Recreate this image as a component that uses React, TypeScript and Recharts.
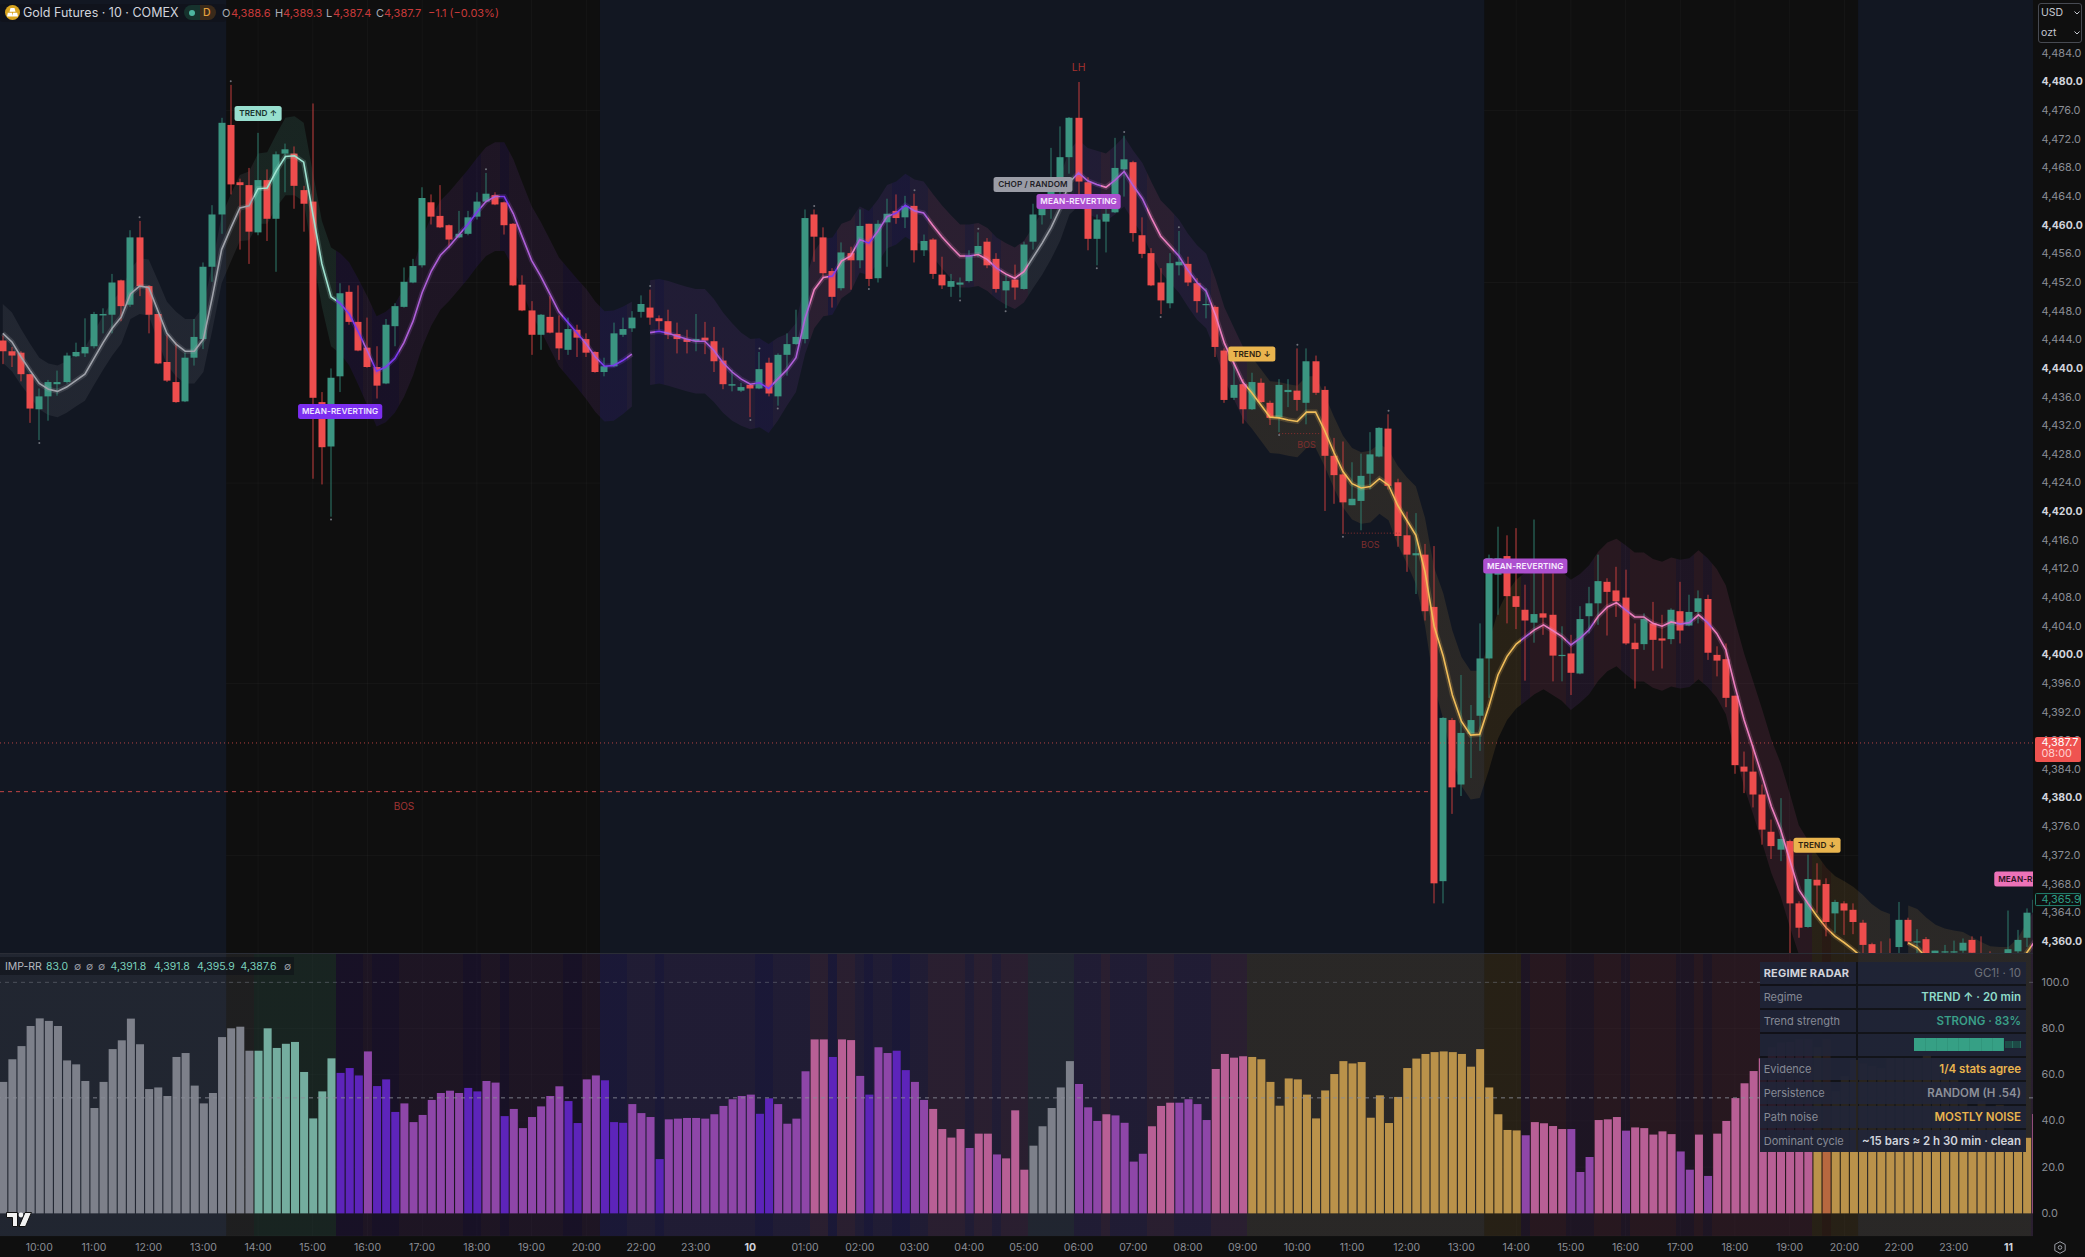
import React from "react";
import {
  Area,
  Bar,
  CartesianGrid,
  ComposedChart,
  Line,
  ReferenceArea,
  ReferenceDot,
  ReferenceLine,
  XAxis,
  YAxis,
} from "recharts";

const opens = [
  4443.9,4442.4,4442.2,4439.2,4434.3,4436.1,4437.8,4438.1,4441.7,4442.1,
  4443.1,4447.4,4447.5,4452.3,4448.9,4458.3,4451.5,4447.6,4440.9,4438.1,
  4435.4,4441.5,4444.1,4454.2,4461.5,4474,4466,4465.6,4459,4466.3,
  4460.9,4470,4470,4464.9,4463.3,4435.3,4429.1,4438.9,4450.7,4446.5,
  4442.9,4440.2,4437.9,4445.9,4448.6,4452,4454.4,4463.2,4461.3,4460,
  4458.3,4458.8,4461.2,4463.3,4464.2,4463.2,4460.2,4451.7,4448.1,4444.7,
  4447.2,4445,4442.6,4445.4,4444.1,4442.3,4439.5,4440.3,4444.7,4445.6,
  4447.9,4448.5,4447,4446.6,4444.8,4444.1,4443.8,4444.3,4443.8,4441.1,
  4437.6,4436.9,4437.7,4437.2,4440.8,4436.1,4441.9,4443.4,4444.1,4461.5,
  4458.3,4453.6,4451.2,4456.1,4455.1,4460.2,4452.6,4460.4,4462,4461.1,
  4462.7,4456.5,4458,4453.1,4451.4,4451.7,4452.2,4456,4457.7,4455.3,
  4450.9,4452.4,4451.1,4457.7,4461.4,4462.5,4465,4469.5,4475,4466,
  4458.1,4460.5,4461.8,4467.8,4468.8,4458.6,4456.1,4452,4449.1,4454.4,
  4454.6,4451.9,4448.9,4448.6,4442.5,4435.9,4437.8,4434.3,4438,4435.2,
  4433.2,4436.7,4436.9,4435.2,4441,4437,4427.8,4425.2,4420.9,4421.5,
  4425.3,4427.7,4431.6,4424.1,4416.7,4413.9,4414,4406.7,4368.4,4390.9,
  4381.9,4389,4391.5,4399.5,4411.2,4413.8,4408.2,4406.3,4404.5,4405.8,
  4405.6,4399.9,4400.2,4397.4,4405.4,4407.2,4410.2,4409,4408,4401.7,
  4401.5,4404.4,4402.3,4402.2,4406.1,4404.1,4406,4407.8,4400,4399.4,
  4394.3,4384.4,4383.7,4380.5,4375.3,4372.8,4374,4365.3,4362,4368.6,
  4368,4363.9,4365.3,4364.4,4362.6,4359.6,4357.6,4357.5,4359.2,4363,
  4359.9,4360.3,4357.5,4358.5,4358.5,4358.7,4360.2,4357.8,4358.3,4356.9,
  4357.5,4358.6,4360.5,4364,
];
const closes = [
  4442.4,4441.8,4439.2,4434.4,4436.1,4438.1,4438.1,4441.8,4442.3,4443,
  4447.6,4447.6,4452,4448.7,4458.3,4451.5,4447.5,4440.7,4438.3,4435.3,
  4441.5,4444.4,4454.2,4461.5,4474.3,4465.7,4465.6,4459.1,4466.3,4460.9,
  4469.9,4470.6,4465.5,4463,4435.9,4429,4438.7,4450.5,4446.5,4442.5,
  4440.2,4437.6,4446.1,4448.7,4452.1,4454.3,4463.8,4461.2,4459.7,4458,
  4458.8,4461.1,4463.3,4464.4,4462.9,4460,4451.6,4448.1,4444.7,4447.5,
  4445,4442.8,4445.5,4444.3,4442.2,4439.5,4440.3,4444.9,4445.5,4447.1,
  4449,4447.1,4446.6,4444.7,4444.1,4443.7,4444.1,4443.9,4441,4437.8,
  4437.8,4437.4,4437.2,4439.9,4436.5,4441.9,4443.4,4444.4,4461,4458.4,
  4453.3,4450,4456.2,4455.1,4459.9,4452.5,4460.2,4461.6,4461,4462.7,
  4456.5,4457.8,4453.2,4451.6,4452.2,4452,4455.7,4457.1,4454.4,4451.1,
  4452.2,4451.3,4457.3,4461.5,4462.6,4465,4469.5,4475,4466.1,4458.1,
  4460.8,4461.6,4468,4469.2,4458.9,4456,4451.6,4449.5,4454.7,4454.9,
  4452,4449.4,4449,4443,4435.6,4437.7,4434.3,4438.1,4435.3,4433.1,
  4437.7,4437,4435.6,4441,4436.6,4427.8,4425.1,4421.3,4421.8,4425,
  4428,4431.7,4423.6,4416.6,4414,4414.2,4406.1,4368.1,4391.2,4381.5,
  4389.1,4390.9,4399.5,4413.5,4413.5,4408.2,4406.7,4404.8,4405.7,4405.2,
  4399.9,4400,4397.5,4405,4407.2,4410.3,4408.8,4407.5,4401.6,4400.8,
  4405,4402.1,4402,4406.3,4403.4,4406,4407.9,4400.3,4399.2,4394,
  4384.6,4383.7,4380.5,4375.6,4373.3,4374.3,4365.3,4361.9,4368.7,4367.8,
  4362.7,4365.5,4364.3,4362.7,4359.5,4358.3,4356,4356,4363,4360,
  4360,4358,4358.7,4358.6,4358.6,4359.8,4358.4,4357,4358.2,4357.7,
  4358.9,4360.2,4364,4365.8,
];
const highs = [
  4444.6,4443,4442.4,4439.2,4437.2,4438.4,4439.7,4442.2,4443.6,4447,
  4447.9,4448.4,4453.2,4452.4,4459.3,4460.6,4451.6,4447.6,4444.7,4443.6,
  4442.2,4446.9,4454.8,4462.8,4475,4479.6,4466.5,4468,4472.9,4467.8,
  4470.3,4471.4,4471,4465.5,4477,4436.7,4440,4451.9,4451.6,4451.6,
  4447.1,4443.1,4446.9,4449.1,4454.1,4455.3,4465.3,4464.3,4465.6,4460.1,
  4462,4462,4464.6,4467.3,4464.6,4463.3,4460.3,4453,4449.4,4447.6,
  4450.1,4447.4,4447.1,4446.1,4444.9,4442.4,4441.5,4446.4,4447.1,4448,
  4450.2,4451,4447.4,4448.2,4446.4,4445.4,4447.6,4446.5,4445.8,4442.9,
  4439.8,4438,4437.8,4442.3,4441.5,4442.1,4444.9,4448.2,4462.2,4462.2,
  4459.7,4454,4457.6,4457,4462.2,4460.2,4460.7,4463.7,4464.3,4464.1,
  4464.4,4458.7,4458.2,4455.6,4453.2,4452.7,4456.5,4459,4458.2,4456.1,
  4453.2,4454.5,4457.7,4463,4463.7,4470.8,4473.8,4475.1,4480,4466.7,
  4461.5,4462.4,4472.2,4472.5,4469,4461.1,4456.8,4454,4456.1,4459.2,
  4455.6,4452.6,4451.2,4448.8,4442.8,4442,4438.5,4439.4,4438.6,4435.5,
  4438.5,4438.5,4442.8,4442.8,4441.8,4437.5,4430.3,4429.8,4426.9,4428.1,
  4431.1,4431.8,4433.6,4424.6,4420,4419.8,4415.5,4415.2,4391.3,4391.2,
  4397.2,4393,4404.4,4414,4417.9,4416.7,4417.7,4409.8,4418.9,4411.9,
  4411.4,4404,4402.8,4406.8,4409.5,4414,4410.7,4412.3,4411.9,4404.4,
  4405.8,4407.4,4405.6,4406.5,4410.2,4408.4,4409,4408.4,4401.2,4401.6,
  4394.3,4386.5,4387.4,4381.9,4377,4380,4374.2,4365.6,4372.1,4370.9,
  4368.8,4365.8,4365.6,4365.3,4363,4359.8,4360,4360.4,4365.5,4363.3,
  4361.7,4360.6,4358.7,4359.5,4360.1,4360.4,4360.7,4360.7,4358.6,4358.2,
  4364.3,4361.6,4364.6,4367,
];
const lows = [
  4440.6,4440.2,4438.2,4432.4,4430,4432.7,4436.2,4437.9,4441.6,4441.6,
  4442.8,4444.9,4444.9,4446.6,4448.6,4450.1,4444.9,4440.6,4438.1,4435.2,
  4435.3,4440.4,4442.7,4452.1,4458.8,4464.3,4456.6,4454.6,4458.6,4457.8,
  4453.5,4464.6,4462.3,4459.1,4424.6,4423.8,4419.3,4436.7,4446.1,4442.4,
  4440.1,4435.8,4437.8,4443.1,4448.5,4451.9,4454.1,4460.1,4459.6,4456.8,
  4458.2,4458.6,4460.8,4463.1,4462.8,4458.7,4451.5,4448,4441.9,4442.6,
  4444.9,4441.2,4441.9,4441.6,4441.6,4439.4,4438.9,4440.2,4444.4,4445.1,
  4447.1,4446.1,4445.4,4444.1,4442.1,4442.1,4442.4,4442,4439.5,4437.1,
  4436.8,4436.7,4433.2,4437.1,4436.1,4434.8,4439,4443.3,4443.5,4454.9,
  4452.7,4448.5,4450.9,4451,4454,4451.5,4452,4454.2,4460.2,4459.6,
  4454.8,4455.7,4452.5,4451.1,4450,4449.9,4452,4455.5,4454,4450.6,
  4448.4,4449.6,4451,4456.6,4460.1,4460.9,4464,4467.2,4463,4456.5,
  4454.4,4456.2,4461.7,4464,4457.7,4455.4,4451.5,4447.6,4448.4,4453,
  4451.5,4447.8,4447,4441.6,4435.2,4435.6,4432.3,4434.2,4435.2,4432.1,
  4431.1,4434.6,4434.1,4432.2,4436.3,4420.1,4421.1,4416.9,4420.9,4417.4,
  4423.1,4427.6,4423.1,4415.1,4411.6,4408.5,4404.8,4365.3,4365.3,4377.8,
  4380.3,4382.8,4386.6,4394,4405.6,4404.4,4403.6,4396.4,4401.7,4402.8,
  4396.3,4396.3,4394.4,4397.3,4403,4404.2,4402.7,4405.3,4401.4,4395.3,
  4400.7,4397.8,4398.1,4401.5,4401.6,4404,4404.4,4399.3,4397,4392.7,
  4383.4,4380.7,4378.7,4373.5,4371.5,4371.2,4358.3,4360.5,4361.9,4364,
  4360.7,4361.2,4360.9,4361,4358.3,4358,4355,4355,4357.5,4359.5,
  4358,4357,4357,4358,4358,4358.4,4357.5,4356,4357,4356.5,
  4357,4358.2,4359.2,4363,
];
const regimeLine = [
  4444.9,4443.7,4441.6,4439.7,4437.9,4437.1,4436.8,4437.4,4438.3,4439.2,
  4441.4,4443.6,4445.6,4447.2,4450.4,4451.5,4451.3,4448.1,4444.9,4443.4,
  4442.4,4442.4,4444.1,4450.1,4456.6,4459.6,4462.4,4462.7,4465.1,4465.2,
  4467.6,4469.6,4469.7,4468.8,4461.6,4454.6,4450,4449.1,4447.6,4445.1,
  4442.4,4439.6,4440.2,4441.4,4443.6,4446.6,4450.6,4453.6,4455.8,4457.1,
  4458.6,4460.1,4461.8,4463.3,4464,4464,4461.6,4458.3,4455.1,4452.9,
  4450.4,4447.9,4446.4,4444.9,4443.4,4441.6,4440.3,4440.4,4441.1,4442,
  null,4445,4445.2,4444.9,4444.5,4444.1,4443.8,4443.8,4442.5,4440.8,
  4439.5,4438.5,4437.8,4438,4437.2,4438.5,4439.8,4441.5,4447,4451,
  4452.7,4452.9,4455,4455.7,4458,4457.5,4459.2,4461.2,4461.7,4462.8,
  4462,4461.7,4460,4458.4,4457,4455.7,4455.7,4455.9,4455.2,4454,
  4453.2,4452.6,4453.5,4455.5,4457.5,4459.7,4462.4,4466,4467.3,4466.2,
  4465.7,4465.3,4466.3,4467.5,4465.5,4463.7,4461,4458.5,4457.1,4455.7,
  4453.7,4452,4450.8,4447.5,4443.5,4440.8,4438.1,4436.6,4434.9,4433.2,
  4433.1,4432.8,4432.6,4433.9,4433.9,4431.3,4428.3,4425.6,4423.9,4423.3,
  4423.5,4424.6,4423.7,4420.9,4418.8,4416.7,4411.6,4404,4399.8,4394.4,
  4390.7,4388.8,4388.9,4392.8,4397.2,4399.8,4401.5,4402.5,4403.5,4404.2,
  4403.4,4402.6,4401.4,4402.3,4403.5,4405.4,4406.7,4407.3,4406.3,4405.3,
  4405.3,4404.4,4404,4404.6,4404.3,4404.5,4405.6,4404.5,4403,4400.7,
  4395.6,4390.9,4387,4383,4378.8,4375.6,4371.4,4367.2,4365.3,4363.5,
  4361.9,4360.7,4359.8,4358.8,4357.7,4356.4,4355.5,4355,null,4359.8,
  4359.1,4357.7,4356.5,4355.8,4355.4,4355.2,4355,4354.9,4354.8,4355,
  4355.5,4356.5,4358.4,4360.2,
];
const bandHalf = [
  4.1,4.1,3.9,3.7,3.6,3.6,3.6,3.6,3.6,3.7,
  3.7,3.8,3.8,3.7,3.5,3.9,3.9,4.2,4.4,4.5,
  4.5,4.5,4.6,4.6,4.7,4.7,4.6,4.8,4.9,5,
  5.1,5.4,5.5,5.5,5.8,6,6.9,7,7.2,7.4,
  7.6,7.7,7.7,7.6,7.6,7.6,7.6,7.6,7.6,7.6,
  7.6,7.6,7.6,7.6,7.6,7.6,7.6,7.6,7.6,7.6,
  7.6,7.6,7.6,7.6,7.7,7.7,7.7,7.7,7.5,7.3,
  0,7.3,7.3,7.3,7.3,7.3,7.3,7.3,7.2,7,
  6.8,6.5,6.3,6.2,6.2,5.8,5,4.8,5,5.4,
  5.4,5.4,5.2,5,4.6,4.5,4.4,4.4,4.4,4.4,
  4.4,4.4,4.4,4.4,4.4,4.4,4.4,4.4,4.4,4.3,
  4.3,4.3,4.3,4.3,4.4,4.4,4.5,4.5,4.6,4.6,
  4.7,4.7,4.8,4.9,4.9,5,5,5,5.1,5.1,
  5.1,5.2,5.2,5.1,5,5,5,5,5,5,
  5,5,5,5,5,5,5,5,5,5,
  5,4.9,4.9,5.5,6,6.8,7.5,8.2,8.8,9,
  9,9,8.9,8.9,8.9,8.9,9,9,9,9,
  9,9,9.1,9,9,9,9,8.9,9,9,
  9,9,9,9,9,9,9,9,9,9,
  9.2,9.3,9.3,9.3,9.3,9.3,9.3,9,8.8,8.6,
  8.4,8.4,8.6,8.8,8.8,8.8,8.8,8.8,0,5.2,
  5.4,5.6,5.8,6,6.1,6.1,5.6,5,4.5,4.2,
  3.7,3.9,4.2,4.5,
];
const oscValues = [
  56.9,66.7,72.4,81.1,84.4,83.3,81.1,66.2,64.5,57.3,
  45.6,56.9,71.1,74.9,84.3,73.2,53.8,54.5,50.8,67.7,
  69.4,55.3,47.6,52.1,76.3,80.1,80.8,70.4,70.4,80.1,
  71.6,73.4,74.2,61.2,41.1,52.8,67.1,60.8,62.9,59.7,
  70.1,55.1,58,43.9,47.6,39.5,42.6,49.1,52.1,53.1,
  52.1,54.3,52.8,57.3,56.6,42.1,45.2,36.9,41.7,46.3,
  50.8,55,48.6,39.1,58,59.7,57.6,39.5,39.2,47.3,
  43.4,41.7,23.5,40.7,41,41.3,41.3,41,42.9,46.5,
  49.4,50.8,51.4,43.1,49.8,47.3,38.8,41,61.5,75.3,
  75.3,67.7,75.3,75,59.5,51.4,71.9,69.4,70.4,62,
  56.9,49.1,45.2,36.5,32.8,36.5,28.3,34.5,34.5,25.5,
  23.8,44.6,18.9,29.3,37.7,45.6,54.5,65.9,56,45.9,
  40,42.9,42.4,39.2,22.4,25.8,37.7,46.5,47.9,47.9,
  49.4,47.3,40.4,62.5,69,67.4,68,67.7,66.7,56.9,
  46.6,58.4,58,51.4,41.1,53.2,60.3,65.9,64.9,65.5,
  41.4,51.1,39.1,50.4,62.9,67,69,69.8,70.1,69.8,
  69,63.5,71.1,54.5,42.9,36.1,35.9,33.8,39.5,39,
  37.8,36.5,36.5,17.9,24.4,40.4,40.7,41.7,35.8,37.2,
  36.9,34.1,35.5,34.3,26.8,18.9,34.1,16.2,34.5,40,
  49.9,56.3,61.6,67.1,71.9,73.9,74.2,75.3,75.3,71.9,
  75.3,52.9,59.4,66.4,64.9,63.8,62.9,67.2,67.2,67.2,
  66.7,68.5,67.2,65.2,57.7,52,46.4,48.6,46,47,
  33.2,33,32.7,43,
];
const regimes = (
  "GGGGGGGGGG" + "GGGGGGGGGG" + "GGGGGGGGTT" + "TTTTTTTIII" +
  "PIIIPPPPPP" + "PIIPPIPPPP" + "PPIIPPIIIP" + "PPIPPPPPPP" +
  "PPPIIPPPPK" + "KIKKPIPPII" + "PPKKKKPKKP" + "KKKGGGGGPP" +
  "PKPPPPKKKP" + "PPPKKKKYYY" + "YYYYYYYYYY" + "YYYYYYYYYY" +
  "YYYYYYYPKK" + "KKPPPKKKPK" + "KKKKPPKPKK" + "KKKKKKKKKY" +
  "OYYYYYYYYY" + "YYYYYYYYYY" + "YYYK"
).split("");
const pivotHighBars = [15, 25, 53, 71, 83, 89, 100, 107, 123, 129, 142, 152];
const pivotLowBars = [4, 36, 82, 85, 95, 105, 110, 120, 127, 140, 147];
const timeLabels = [
  "10:00","11:00","12:00","13:00","14:00","15:00","16:00","17:00","18:00","19:00","20:00","22:00","23:00",
  "10","01:00","02:00","03:00","04:00","05:00","06:00","07:00","08:00","09:00","10:00","11:00","12:00",
  "13:00","14:00","15:00","16:00","17:00","18:00","19:00","20:00","22:00","23:00","11",
];
const priceTicks = [
  4484,4480,4476,4472,4468,4464,4460,4456,4452,4448,4444,4440,4436,4432,4428,4424,4420,4416,4412,4408,
  4404,4400,4396,4392,4388,4384,4380,4376,4372,4368,4364,4360,
];
const lastPrice = 4387.7;
const livePrice = 4365.9;
const oscTicks = [100, 80, 60, 40, 20, 0];
const faintPriceLines = [4476, 4452, 4424, 4396, 4372];
const regimeLabels = [
  { bar: 28, price: 4475.6, text: "TREND \u2191", bg: "#98dfcf", fg: "#17302b" },
  { bar: 37, price: 4434, text: "MEAN-REVERTING", bg: "#7c2ef0", fg: "#efe6ff" },
  { bar: 113, price: 4465.7, text: "CHOP / RANDOM", bg: "#9a9ca6", fg: "#1e2027" },
  { bar: 118, price: 4463.3, text: "MEAN-REVERTING", bg: "#ad4fcf", fg: "#f8ecff" },
  { bar: 137, price: 4442, text: "TREND \u2193", bg: "#e9b44e", fg: "#2c2110" },
  { bar: 167, price: 4412.4, text: "MEAN-REVERTING", bg: "#ad4fcf", fg: "#f8ecff" },
  { bar: 199, price: 4373.4, text: "TREND \u2193", bg: "#e9b44e", fg: "#2c2110" },
  { bar: 223.06, price: 4368.7, text: "MEAN-REVERTING", bg: "#ec72b8", fg: "#2c1222" },
];
const structureLabels = [
  { bar: 44, price: 4378.7, text: "BOS", color: "#a03434", size: 10 },
  { bar: 143, price: 4429.2, text: "BOS", color: "#7d2e2e", size: 9 },
  { bar: 150, price: 4415.2, text: "BOS", color: "#7d2e2e", size: 9 },
  { bar: 118, price: 4482, text: "LH", color: "#a8322f", size: 10.5 },
];
const tableRows = [
  ["REGIME RADAR", "GC1! \u00b7 10", "#d1d4dc", "#6d7079"],
  ["Regime", "TREND \u2191 \u00b7 20 min", "#868a95", "#8fdcca"],
  ["Trend strength", "STRONG \u00b7 83%", "#868a95", "#3a9f88"],
  ["", "", "", ""],
  ["Evidence", "1/4 stats agree", "#868a95", "#e9b44e"],
  ["Persistence", "RANDOM (H .54)", "#868a95", "#8d9099"],
  ["Path noise", "MOSTLY NOISE", "#868a95", "#e9b44e"],
  ["Dominant cycle", "~15 bars \u2248 2 h 30 min \u00b7 clean", "#868a95", "#d1d4dc"],
];
const strengthBlocks = [1, 1, 1, 1, 1, 1, 1, 1, 0, 0];

const barColor = { G: "#7d808a", T: "#74ad9f", I: "#5d24ba", P: "#8e46a8", K: "#b85f95", Y: "#ba924a", O: "#b8683f" };
const lineColor = { G: "#a0a3ab", T: "#9fe3d1", I: "#7c3aed", P: "#ae5fd8", K: "#ec7fc0", Y: "#f0bd5a", O: "#f0935a" };
const bandColor = { G: "#9598a1", T: "#5fc5aa", I: "#5b21d6", P: "#8e44c0", K: "#e05a9c", Y: "#e0a84a", O: "#e06a3a" };
const FONT = "Inter, sans-serif";
const X_MIN = -0.31;
const X_MAX = 222.69;
const PLOT_W = 2033;
const SESSIONS = [
  [X_MIN, 24.5],
  [65.5, 162.5],
  [203.5, X_MAX],
];
const NAVY = "#121722";

const rows = opens.map((open, i) => {
  const line = regimeLine[i];
  return {
    i,
    open,
    close: closes[i],
    high: highs[i],
    low: lows[i],
    range: [lows[i], highs[i]],
    line,
    band: line === null ? null : [line - bandHalf[i], line + bandHalf[i]],
    osc: oscValues[i],
    regime: regimes[i],
  };
});
const timeTicks = timeLabels.map((_, k) => 4 + 6 * k);
const frac = (v: number) => Math.min(1, Math.max(0, (v - X_MIN) / (X_MAX - X_MIN)));

function gradient(id: string, palette: any, opacity: number) {
  return (
    <linearGradient id={id} gradientUnits="userSpaceOnUse" x1="0" y1="0" x2={PLOT_W} y2="0">
      {regimes.flatMap((r, i) => [
        <stop key={i + "a"} offset={frac(i - 0.5)} stopColor={palette[r]} stopOpacity={opacity} />,
        <stop key={i + "b"} offset={frac(i + 0.5)} stopColor={palette[r]} stopOpacity={opacity} />,
      ])}
    </linearGradient>
  );
}

const Candle = (p: any) => {
  const { x, y, width, height, payload: d } = p;
  const u = height / (d.high - d.low);
  const cx = Math.round(x + width / 2);
  const yo = y + (d.high - d.open) * u;
  const yc = y + (d.high - d.close) * u;
  const up = d.close >= d.open;
  const col = up ? "#3b9581" : "#ee4d4d";
  const wick = up ? "#2f7d6c" : "#c23d3d";
  return (
    <g>
      <rect x={cx - 0.5} y={y} width={1} height={height} fill={wick} />
      <rect x={cx - 3.5} y={Math.min(yo, yc)} width={7} height={Math.max(1.2, Math.abs(yc - yo))} fill={col} />
    </g>
  );
};

const OscBar = (p: any) => {
  const { x, y, width, height, payload } = p;
  return <rect x={x} y={y} width={width} height={height} fill={barColor[payload.regime]} />;
};

const fmt = (v: number) => v.toLocaleString("en-US", { minimumFractionDigits: 1, maximumFractionDigits: 1 });

const PriceTick = (p: any) => {
  const { x, y, payload } = p;
  const v = payload.value;
  if (v === lastPrice) {
    return (
      <g>
        <rect x={x + 2} y={y - 6} width={46} height={25} rx={2} fill="#ef5350" />
        <text x={x + 8.5} y={y + 0.5} fill="#fff" fontSize={10.9} fontFamily={FONT} dominantBaseline="middle">{fmt(v)}</text>
        <text x={x + 8.5} y={y + 11.5} fill="#ffd0cf" fontSize={10.9} fontFamily={FONT} dominantBaseline="middle">08:00</text>
      </g>
    );
  }
  if (v === livePrice) {
    return (
      <g>
        <rect x={x + 2.5} y={y - 5.5} width={45} height={12} rx={1} fill="#0f0f0f" stroke="#23806f" strokeWidth={1} />
        <text x={x + 8.5} y={y + 0.5} fill="#2e9e86" fontSize={10.9} fontFamily={FONT} dominantBaseline="middle">{fmt(v)}</text>
      </g>
    );
  }
  const bold = v % 20 === 0;
  return (
    <text x={x + 8.5} y={y + 0.5} fill={bold ? "#d1d4dc" : "#8b8e96"} fontWeight={bold ? 700 : 400} fontSize={bold ? 10.5 : 10.9} fontFamily={FONT} dominantBaseline="middle">
      {fmt(v)}
    </text>
  );
};

const OscTick = (p: any) => (
  <text x={p.x + 8.5} y={p.y + 0.5} fill="#8b8e96" fontSize={10.9} fontFamily={FONT} dominantBaseline="middle">
    {fmt(p.payload.value)}
  </text>
);

const TimeTick = (p: any) => {
  const k = timeTicks.indexOf(p.payload.value);
  const label = timeLabels[k];
  const bold = label.length === 2;
  return (
    <text x={p.x} y={p.y + 11.7} textAnchor="middle" dominantBaseline="middle" fill={bold ? "#d1d4dc" : "#8b8e96"} fontWeight={bold ? 700 : 400} fontSize={10.5} fontFamily={FONT}>
      {label}
    </text>
  );
};

const regimeTag = (t: any) => (p: any) => {
  const w = t.text.length * 5.3 + 10;
  return (
    <g clipPath="url(#plotClip)">
      <rect x={p.cx - w / 2} y={p.cy - 7.5} width={w} height={15} rx={2.5} fill={t.bg} />
      <text x={p.cx} y={p.cy + 0.5} textAnchor="middle" dominantBaseline="middle" fontFamily={FONT} fontSize={8.2} fontWeight={600} letterSpacing={0.1} fill={t.fg}>
        {t.text}
      </text>
    </g>
  );
};

const structureTag = (t: any) => (p: any) => (
  <text x={p.cx} y={p.cy} textAnchor="middle" dominantBaseline="middle" fontFamily={FONT} fontSize={t.size} fill={t.color}>
    {t.text}
  </text>
);

const pivotDot = (p: any) => <circle cx={p.cx} cy={p.cy} r={1} fill="#6f727b" />;

const abs = (left: number, top: number, extra: any = {}) => ({ position: "absolute" as const, left, top, ...extra });
const Txt = ({ x, y, c, s = 11, w = 400, children }: any) => (
  <span style={abs(x, y, { color: c, fontSize: s, fontWeight: w, lineHeight: "14px", whiteSpace: "pre" })}>{children}</span>
);

export default function App() {
  return (
    <div style={{ position: "absolute", left: 0, top: 0, width: 2085, height: 1257, background: "#0f0f0f", overflow: "hidden", fontFamily: FONT }}>
      <div style={abs(0, 0)}>
        <ComposedChart width={2085} height={953} data={rows} margin={{ top: 0, right: 0, bottom: 0, left: 0 }}>
          <defs>
            {gradient("mainBand", bandColor, 0.12)}
            {gradient("mainLine", lineColor, 1)}
            <clipPath id="plotClip"><rect x={0} y={0} width={PLOT_W} height={953} /></clipPath>
          </defs>
          <XAxis dataKey="i" type="number" hide domain={[X_MIN, X_MAX]} allowDataOverflow />
          <YAxis
            orientation="right"
            width={52}
            domain={[4358.37, 4491.45]}
            allowDataOverflow
            ticks={[...priceTicks, lastPrice, livePrice]}
            interval={0}
            axisLine={false}
            tickLine={false}
            tickSize={0}
            tickMargin={0}
            tick={PriceTick}
          />
          {SESSIONS.map(([a, b]) => (
            <ReferenceArea key={a} x1={a} x2={b} fill={NAVY} fillOpacity={1} stroke="none" ifOverflow="visible" />
          ))}
          <CartesianGrid stroke="#ffffff" strokeOpacity={0.03} verticalValues={timeTicks} horizontalValues={faintPriceLines} />
          <Area dataKey="band" stroke="none" fill="url(#mainBand)" fillOpacity={1} isAnimationActive={false} activeDot={false} dot={false} />
          <Bar dataKey="range" barSize={7} shape={Candle} isAnimationActive={false} />
          <Line dataKey="line" stroke="url(#mainLine)" strokeOpacity={0.2} strokeWidth={5} dot={false} activeDot={false} isAnimationActive={false} />
          <Line dataKey="line" stroke="url(#mainLine)" strokeWidth={1.6} dot={false} activeDot={false} isAnimationActive={false} />
          <ReferenceLine y={lastPrice} stroke="#ef5350" strokeOpacity={0.75} strokeDasharray="1 3" />
          <ReferenceLine segment={[{ x: X_MIN, y: 4380.9 }, { x: 156.5, y: 4380.9 }]} stroke="#c24545" strokeDasharray="4 4" ifOverflow="visible" />
          <ReferenceLine segment={[{ x: 140, y: 4430.9 }, { x: 144.5, y: 4430.9 }]} stroke="#8a2f2f" strokeDasharray="1 2" />
          <ReferenceLine segment={[{ x: 147.2, y: 4417 }, { x: 153.2, y: 4417 }]} stroke="#8a2f2f" strokeDasharray="1 2" />
          {pivotHighBars.map((i) => (
            <ReferenceDot key={"h" + i} x={i} y={highs[i] + 0.5} shape={pivotDot} />
          ))}
          {pivotLowBars.map((i) => (
            <ReferenceDot key={"l" + i} x={i} y={lows[i] - 0.4} shape={pivotDot} />
          ))}
          {structureLabels.map((t) => (
            <ReferenceDot key={t.bar + t.text} x={t.bar} y={t.price} shape={structureTag(t)} />
          ))}
          {regimeLabels.map((t) => (
            <ReferenceDot key={t.bar} x={t.bar} y={t.price} ifOverflow="visible" shape={regimeTag(t)} />
          ))}
        </ComposedChart>
      </div>

      <div style={abs(0, 953)}>
        <ComposedChart width={2085} height={304} data={rows} margin={{ top: 0, right: 0, bottom: 0, left: 0 }}>
          <defs>{gradient("oscBg", bandColor, 0.115)}</defs>
          <XAxis
            dataKey="i"
            type="number"
            domain={[X_MIN, X_MAX]}
            allowDataOverflow
            ticks={timeTicks}
            interval={0}
            height={21}
            axisLine={false}
            tickLine={false}
            tickSize={0}
            tickMargin={0}
            tick={TimeTick}
          />
          <YAxis
            orientation="right"
            width={52}
            domain={[-9.8, 112.7]}
            allowDataOverflow
            ticks={oscTicks}
            interval={0}
            axisLine={false}
            tickLine={false}
            tickSize={0}
            tickMargin={0}
            tick={OscTick}
          />
          {SESSIONS.map(([a, b]) => (
            <ReferenceArea key={a} x1={a} x2={b} fill={NAVY} fillOpacity={1} stroke="none" ifOverflow="visible" />
          ))}
          <ReferenceArea x1={X_MIN} x2={X_MAX} fill="url(#oscBg)" fillOpacity={1} stroke="none" ifOverflow="visible" />
          <CartesianGrid stroke="#ffffff" strokeOpacity={0.025} verticalValues={timeTicks} horizontalValues={[]} />
          <Bar dataKey="osc" barSize={8} shape={OscBar} isAnimationActive={false} />
          <ReferenceLine y={100} stroke="#787b86" strokeOpacity={0.5} strokeDasharray="4 4" />
          <ReferenceLine y={50} stroke="#8a8d96" strokeOpacity={0.85} strokeDasharray="4 4" />
        </ComposedChart>
      </div>

      <div style={abs(0, 953, { width: 2033, height: 1, background: "#2a2d36" })} />

      {/* main legend */}
      <div style={abs(0, 4, { width: 226, height: 18, background: "rgba(15,17,24,.55)", borderRadius: 3 })} />
      <div style={abs(5, 5, { width: 15, height: 15, borderRadius: "50%", background: "#d9a520" })} />
      <svg style={abs(7, 8)} width={11} height={9} viewBox="0 0 11 9">
        <path d="M3.5 0H7.5L8.5 3.8H2.5ZM0.8 4.8H5L5.6 8.4H0ZM6 4.8H10.2L11 8.4H5.4Z" fill="#fff" />
      </svg>
      <Txt x={23} y={6} c="#d1d4dc" s={12.5}>Gold Futures · 10 · COMEX</Txt>
      <div style={abs(184, 5, { width: 16, height: 15, background: "#16322d", borderRadius: "8px 0 0 8px" })} />
      <div style={abs(200, 5, { width: 16, height: 15, background: "#3a2a1a", borderRadius: "0 8px 8px 0" })} />
      <div style={abs(189, 10, { width: 6, height: 6, borderRadius: "50%", background: "#4db6a0" })} />
      <Txt x={203} y={6} c="#e6a33e" s={10.5} w={500}>D</Txt>
      <Txt x={222} y={6} c="#a9acb4">O</Txt>
      <Txt x={231} y={6} c="#c73a3a">4,388.6</Txt>
      <Txt x={275} y={6} c="#a9acb4">H</Txt>
      <Txt x={283} y={6} c="#c73a3a">4,389.3</Txt>
      <Txt x={326} y={6} c="#a9acb4">L</Txt>
      <Txt x={333} y={6} c="#c73a3a">4,387.4</Txt>
      <Txt x={376} y={6} c="#a9acb4">C</Txt>
      <Txt x={384} y={6} c="#c73a3a">4,387.7</Txt>
      <Txt x={428} y={6} c="#c73a3a">−1.1 (−0.03%)</Txt>

      {/* currency and unit */}
      <div style={abs(2037.5, 3, { width: 44, height: 40, border: "1px solid #474a52", borderRadius: 3, boxSizing: "border-box" })} />
      <Txt x={2041} y={6} c="#c5c8d0" s={10.5}>USD</Txt>
      <Txt x={2041} y={26} c="#c5c8d0" s={10.5}>ozt</Txt>
      <svg style={abs(2074, 11)} width={6} height={4}><path d="M0.5 0.5L3 3L5.5 0.5" stroke="#c5c8d0" fill="none" /></svg>
      <svg style={abs(2074, 31)} width={6} height={4}><path d="M0.5 0.5L3 3L5.5 0.5" stroke="#c5c8d0" fill="none" /></svg>

      {/* oscillator legend */}
      <div style={abs(0, 957, { width: 294, height: 18, background: "rgba(15,17,24,.55)" })} />
      <Txt x={5} y={960} c="#b5b8c0" s={10.5}>IMP-RR</Txt>
      <Txt x={46} y={960} c="#7ad1bb" s={10.5}>83.0</Txt>
      <Txt x={74} y={960} c="#9a9da5" s={10.5}>∅</Txt>
      <Txt x={86} y={960} c="#9a9da5" s={10.5}>∅</Txt>
      <Txt x={98} y={960} c="#9a9da5" s={10.5}>∅</Txt>
      <Txt x={110.5} y={960} c="#7ad1bb" s={10.5}>4,391.8</Txt>
      <Txt x={154} y={960} c="#7ad1bb" s={10.5}>4,391.8</Txt>
      <Txt x={197} y={960} c="#7ad1bb" s={10.5}>4,395.9</Txt>
      <Txt x={240.5} y={960} c="#7ad1bb" s={10.5}>4,387.6</Txt>
      <Txt x={284} y={960} c="#9a9da5" s={10.5}>∅</Txt>

      {/* regime table */}
      <div
        style={abs(1759.7, 962, {
          width: 266.3,
          height: 190,
          display: "grid",
          gridTemplateColumns: "96px 1fr",
          gridTemplateRows: "repeat(8, 1fr)",
          gap: "2.5px 2px",
          background: "rgba(14,16,24,.85)",
        })}
      >
        {tableRows.map((r, k) => [
          <div key={k + "a"} style={{ background: "rgba(33,38,57,.9)", color: r[2], fontSize: 11, fontWeight: k === 0 ? 700 : 400, display: "flex", alignItems: "center", paddingLeft: 4, letterSpacing: k === 0 ? 0.2 : 0, whiteSpace: "nowrap" }}>
            {r[0]}
          </div>,
          <div key={k + "b"} style={{ background: "rgba(33,38,57,.9)", color: r[3], fontSize: 11.5, fontWeight: k === 0 ? 400 : 600, display: "flex", alignItems: "center", justifyContent: "flex-end", paddingRight: 5, whiteSpace: "nowrap" }}>
            {k === 3
              ? strengthBlocks.map((on, b) => (
                  <span key={b} style={{ width: b < 8 ? 11.2 : 8, height: b < 8 ? 13 : 7, marginLeft: b === 8 ? 1 : 0, background: on ? "#36a085" : "#1d4a46", boxShadow: "inset -0.5px 0 0 #2c8b75" }} />
                ))
              : r[1]}
          </div>,
        ])}
      </div>

      {/* logo and settings */}
      <svg style={abs(6, 1212)} width={26} height={15} viewBox="0 0 26 15">
        <path d="M0.5 0.5H11.5V14.5H6.5V5.5H0.5Z" fill="#f2f2f2" stroke="#111" strokeWidth={1} />
        <circle cx={15} cy={3} r={2.4} fill="#f2f2f2" />
        <path d="M19 0.5H25.5L19.5 14.5H13Z" fill="#f2f2f2" stroke="#111" strokeWidth={1} />
      </svg>
      <svg style={abs(2054, 1241)} width={12} height={13} viewBox="0 0 12 13">
        <path d="M6 0.7L11.2 3.5V9.5L6 12.3L0.8 9.5V3.5Z" fill="none" stroke="#9a9da5" />
        <circle cx={6} cy={6.5} r={1.8} fill="none" stroke="#9a9da5" />
      </svg>
    </div>
  );
}
